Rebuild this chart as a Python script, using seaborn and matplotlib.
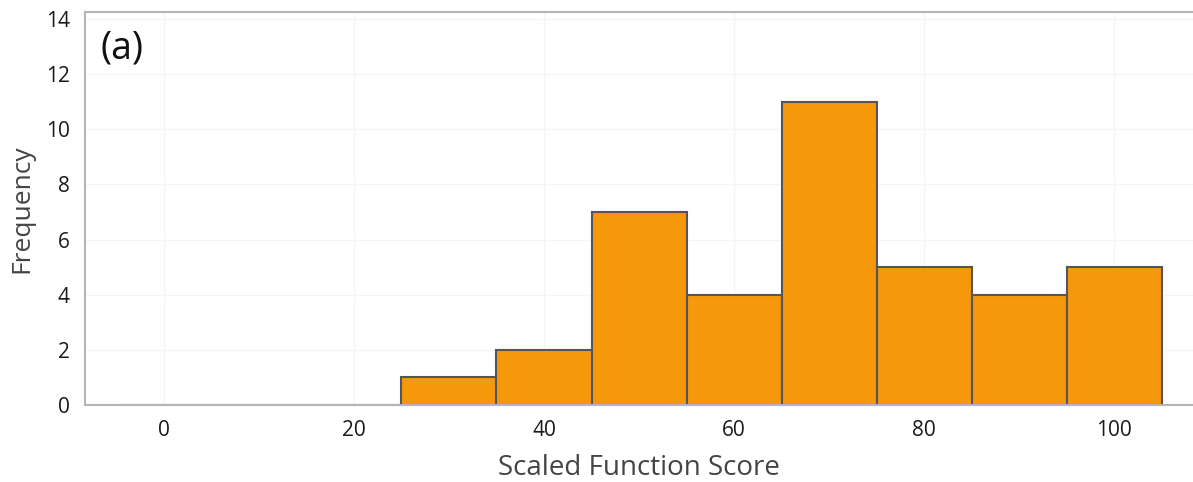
import matplotlib
matplotlib.use("Agg")
import matplotlib.pyplot as plt
import seaborn as sns

# Histogram of scaled function scores (bins of width 10, centred on multiples of 10)
bin_centers = [0, 10, 20, 30, 40, 50, 60, 70, 80, 90, 100]
counts = [0, 0, 0, 1, 2, 7, 4, 11, 5, 4, 5]
bin_edges = [-5, 5, 15, 25, 35, 45, 55, 65, 75, 85, 95, 105]
x_ticks = [0, 20, 40, 60, 80, 100]
y_ticks = [0, 2, 4, 6, 8, 10, 12, 14]

sns.set_style("white")
plt.rcParams["font.family"] = ["Open Sans", "DejaVu Sans"]

fig = plt.figure(figsize=(11.93, 4.82), dpi=100)
ax = fig.add_axes([0.0713, 0.1598, 0.9287, 0.8152])

sns.histplot(x=bin_centers, weights=counts, bins=bin_edges, ax=ax,
             color="#F5980C", alpha=1.0, edgecolor="#555555", linewidth=1.5)

ax.set_xlim(-8.3, 108.3)
ax.set_ylim(0, 14.25)
ax.set_xticks(x_ticks)
ax.set_yticks(y_ticks)
ax.grid(True, color="#f5f5f5", linewidth=1.0)
ax.set_axisbelow(True)

ax.spines["right"].set_visible(False)
for side in ("left", "top", "bottom"):
    ax.spines[side].set_visible(True)
    ax.spines[side].set_color("#b5b5b5")
    ax.spines[side].set_linewidth(1.5)

ax.tick_params(axis="both", which="major", direction="out", length=7, width=1,
               color="#b5b5b5", labelsize=15, labelcolor="#1a1a1a", pad=4)

ax.set_xlabel("Scaled Function Score", fontsize=20, color="#444444", labelpad=9)
ax.set_ylabel("Frequency", fontsize=19, color="#444444", labelpad=8)

ax.text(0.014, 0.955, "(a)", transform=ax.transAxes, fontsize=27,
        color="#111111", ha="left", va="top")

fig.savefig("out.png", dpi=100)
